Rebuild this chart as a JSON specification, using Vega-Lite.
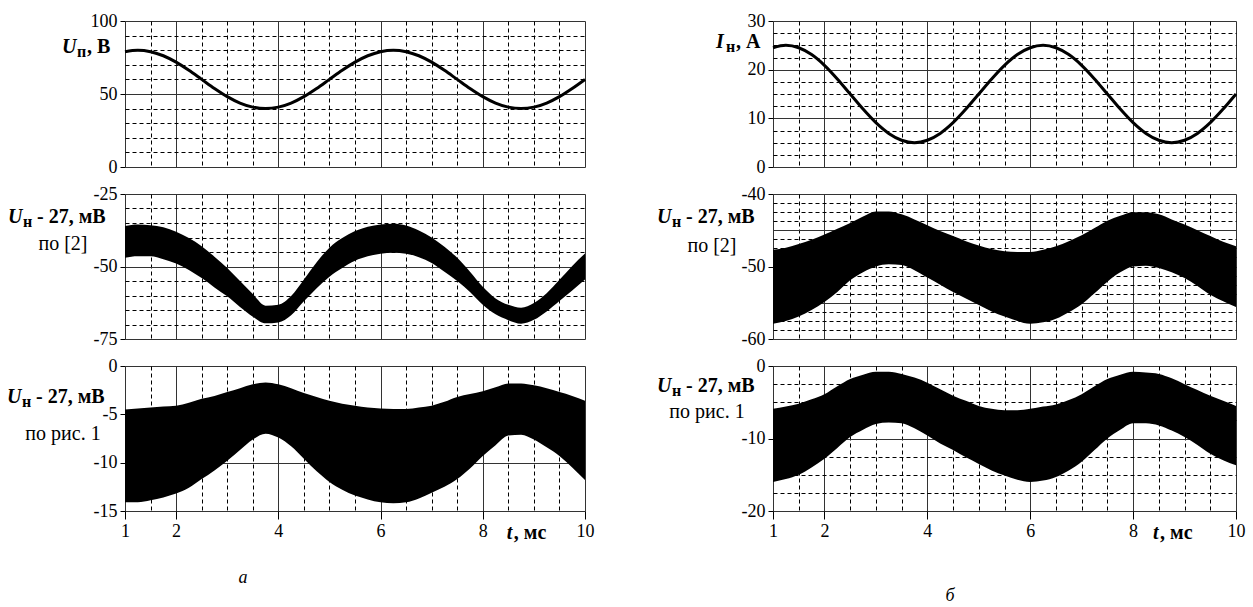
{
  "$schema": "https://vega.github.io/schema/vega-lite/v6.json",
  "background": "white",
  "padding": {"left": 6, "top": 11, "right": 0, "bottom": 0},
  "columns": 2,
  "bounds": "flush",
  "spacing": {"row": 27, "column": 188},
  "datasets": {
    "top_a": [
      {"t": 1, "u": 79.0}, {"t": 1.25, "u": 80}, {"t": 1.5, "u": 79.0}, {"t": 1.75, "u": 76.2}, {"t": 2, "u": 71.8},
      {"t": 2.25, "u": 66.2}, {"t": 2.5, "u": 60}, {"t": 2.75, "u": 53.8}, {"t": 3, "u": 48.2}, {"t": 3.25, "u": 43.8},
      {"t": 3.5, "u": 41.0}, {"t": 3.75, "u": 40}, {"t": 4, "u": 41.0}, {"t": 4.25, "u": 43.8}, {"t": 4.5, "u": 48.2},
      {"t": 4.75, "u": 53.8}, {"t": 5, "u": 60}, {"t": 5.25, "u": 66.2}, {"t": 5.5, "u": 71.8}, {"t": 5.75, "u": 76.2},
      {"t": 6, "u": 79.0}, {"t": 6.25, "u": 80}, {"t": 6.5, "u": 79.0}, {"t": 6.75, "u": 76.2}, {"t": 7, "u": 71.8},
      {"t": 7.25, "u": 66.2}, {"t": 7.5, "u": 60}, {"t": 7.75, "u": 53.8}, {"t": 8, "u": 48.2}, {"t": 8.25, "u": 43.8},
      {"t": 8.5, "u": 41.0}, {"t": 8.75, "u": 40}, {"t": 9, "u": 41.0}, {"t": 9.25, "u": 43.8}, {"t": 9.5, "u": 48.2},
      {"t": 9.75, "u": 53.8}, {"t": 10, "u": 60}
    ],
    "mid_a": [
      {"t": 1, "hi": -36.0, "lo": -47.0}, {"t": 1.25, "hi": -35.5, "lo": -46.5}, {"t": 1.5, "hi": -35.8, "lo": -46.5},
      {"t": 1.75, "hi": -36.5, "lo": -47.5}, {"t": 2, "hi": -38.0, "lo": -49.0}, {"t": 2.25, "hi": -40.2, "lo": -51.2},
      {"t": 2.5, "hi": -43.0, "lo": -54.0}, {"t": 2.75, "hi": -46.6, "lo": -57.2}, {"t": 3, "hi": -50.5, "lo": -60.3},
      {"t": 3.25, "hi": -55.0, "lo": -64.0}, {"t": 3.5, "hi": -59.5, "lo": -67.3}, {"t": 3.75, "hi": -63.5, "lo": -69.6},
      {"t": 4, "hi": -63.2, "lo": -69.3}, {"t": 4.25, "hi": -60.2, "lo": -66.8}, {"t": 4.5, "hi": -54.5, "lo": -62.0},
      {"t": 4.75, "hi": -48.5, "lo": -57.5}, {"t": 5, "hi": -43.5, "lo": -53.5}, {"t": 5.25, "hi": -40.2, "lo": -50.5},
      {"t": 5.5, "hi": -37.8, "lo": -48.0}, {"t": 5.75, "hi": -36.3, "lo": -46.5}, {"t": 6, "hi": -35.5, "lo": -45.6},
      {"t": 6.25, "hi": -35.3, "lo": -45.3}, {"t": 6.5, "hi": -35.9, "lo": -45.6}, {"t": 6.75, "hi": -37.6, "lo": -46.8},
      {"t": 7, "hi": -40.0, "lo": -48.8}, {"t": 7.25, "hi": -43.2, "lo": -51.8}, {"t": 7.5, "hi": -47.0, "lo": -55.0},
      {"t": 7.75, "hi": -51.8, "lo": -58.8}, {"t": 8, "hi": -57.0, "lo": -63.2}, {"t": 8.25, "hi": -61.0, "lo": -66.5},
      {"t": 8.5, "hi": -63.2, "lo": -68.5}, {"t": 8.75, "hi": -64.2, "lo": -69.7}, {"t": 9, "hi": -62.6, "lo": -68.4},
      {"t": 9.25, "hi": -59.2, "lo": -65.5}, {"t": 9.5, "hi": -54.6, "lo": -61.9}, {"t": 9.75, "hi": -49.8, "lo": -58.3},
      {"t": 10, "hi": -45.5, "lo": -54.5}
    ],
    "bot_a": [
      {"t": 1, "hi": -4.5, "lo": -14.1}, {"t": 1.25, "hi": -4.4, "lo": -14.1}, {"t": 1.5, "hi": -4.3, "lo": -13.9},
      {"t": 1.75, "hi": -4.2, "lo": -13.6}, {"t": 2, "hi": -4.1, "lo": -13.2}, {"t": 2.25, "hi": -3.8, "lo": -12.6},
      {"t": 2.5, "hi": -3.4, "lo": -11.7}, {"t": 2.75, "hi": -3.1, "lo": -10.8}, {"t": 3, "hi": -2.7, "lo": -9.8},
      {"t": 3.25, "hi": -2.3, "lo": -8.7}, {"t": 3.5, "hi": -1.9, "lo": -7.6}, {"t": 3.75, "hi": -1.7, "lo": -7.0},
      {"t": 4, "hi": -1.9, "lo": -7.4}, {"t": 4.25, "hi": -2.3, "lo": -8.3}, {"t": 4.5, "hi": -2.8, "lo": -9.6},
      {"t": 4.75, "hi": -3.2, "lo": -10.9}, {"t": 5, "hi": -3.6, "lo": -12.0}, {"t": 5.25, "hi": -3.9, "lo": -12.8},
      {"t": 5.5, "hi": -4.1, "lo": -13.4}, {"t": 5.75, "hi": -4.3, "lo": -13.8}, {"t": 6, "hi": -4.4, "lo": -14.1},
      {"t": 6.25, "hi": -4.45, "lo": -14.2}, {"t": 6.5, "hi": -4.45, "lo": -14.1}, {"t": 6.75, "hi": -4.3, "lo": -13.7},
      {"t": 7, "hi": -4.1, "lo": -13.1}, {"t": 7.25, "hi": -3.7, "lo": -12.5}, {"t": 7.5, "hi": -3.2, "lo": -11.7},
      {"t": 7.75, "hi": -2.9, "lo": -10.6}, {"t": 8, "hi": -2.6, "lo": -9.3}, {"t": 8.25, "hi": -2.2, "lo": -8.2},
      {"t": 8.5, "hi": -1.8, "lo": -7.2}, {"t": 8.75, "hi": -1.8, "lo": -7.1}, {"t": 9, "hi": -2.0, "lo": -7.6},
      {"t": 9.25, "hi": -2.3, "lo": -8.4}, {"t": 9.5, "hi": -2.7, "lo": -9.3}, {"t": 9.75, "hi": -3.1, "lo": -10.5},
      {"t": 10, "hi": -3.6, "lo": -11.8}
    ],
    "top_b": [
      {"t": 1, "i": 24.5}, {"t": 1.25, "i": 25}, {"t": 1.5, "i": 24.5}, {"t": 1.75, "i": 23.1}, {"t": 2, "i": 20.9},
      {"t": 2.25, "i": 18.1}, {"t": 2.5, "i": 15}, {"t": 2.75, "i": 11.9}, {"t": 3, "i": 9.1}, {"t": 3.25, "i": 6.9},
      {"t": 3.5, "i": 5.5}, {"t": 3.75, "i": 5}, {"t": 4, "i": 5.5}, {"t": 4.25, "i": 6.9}, {"t": 4.5, "i": 9.1},
      {"t": 4.75, "i": 11.9}, {"t": 5, "i": 15}, {"t": 5.25, "i": 18.1}, {"t": 5.5, "i": 20.9}, {"t": 5.75, "i": 23.1},
      {"t": 6, "i": 24.5}, {"t": 6.25, "i": 25}, {"t": 6.5, "i": 24.5}, {"t": 6.75, "i": 23.1}, {"t": 7, "i": 20.9},
      {"t": 7.25, "i": 18.1}, {"t": 7.5, "i": 15}, {"t": 7.75, "i": 11.9}, {"t": 8, "i": 9.1}, {"t": 8.25, "i": 6.9},
      {"t": 8.5, "i": 5.5}, {"t": 8.75, "i": 5}, {"t": 9, "i": 5.5}, {"t": 9.25, "i": 6.9}, {"t": 9.5, "i": 9.1},
      {"t": 9.75, "i": 11.9}, {"t": 10, "i": 15}
    ],
    "mid_b": [
      {"t": 1, "hi": -47.7, "lo": -57.9}, {"t": 1.25, "hi": -47.4, "lo": -57.5}, {"t": 1.5, "hi": -46.9, "lo": -56.9},
      {"t": 1.75, "hi": -46.3, "lo": -56.0}, {"t": 2, "hi": -45.6, "lo": -54.9}, {"t": 2.25, "hi": -44.8, "lo": -53.5},
      {"t": 2.5, "hi": -44.0, "lo": -51.9}, {"t": 2.75, "hi": -43.1, "lo": -50.8}, {"t": 3, "hi": -42.4, "lo": -50.0},
      {"t": 3.25, "hi": -42.4, "lo": -49.7}, {"t": 3.5, "hi": -42.8, "lo": -49.8}, {"t": 3.75, "hi": -43.5, "lo": -50.5},
      {"t": 4, "hi": -44.3, "lo": -51.5}, {"t": 4.25, "hi": -45.1, "lo": -52.5}, {"t": 4.5, "hi": -45.8, "lo": -53.5},
      {"t": 4.75, "hi": -46.5, "lo": -54.4}, {"t": 5, "hi": -47.1, "lo": -55.3}, {"t": 5.25, "hi": -47.6, "lo": -56.2},
      {"t": 5.5, "hi": -47.9, "lo": -56.9}, {"t": 5.75, "hi": -48.0, "lo": -57.5}, {"t": 6, "hi": -48.0, "lo": -57.9},
      {"t": 6.25, "hi": -47.7, "lo": -57.7}, {"t": 6.5, "hi": -47.2, "lo": -57.2}, {"t": 6.75, "hi": -46.5, "lo": -56.3},
      {"t": 7, "hi": -45.7, "lo": -55.2}, {"t": 7.25, "hi": -44.7, "lo": -53.7}, {"t": 7.5, "hi": -43.7, "lo": -52.1},
      {"t": 7.75, "hi": -43.0, "lo": -50.8}, {"t": 8, "hi": -42.5, "lo": -50.0}, {"t": 8.25, "hi": -42.5, "lo": -49.9},
      {"t": 8.5, "hi": -42.8, "lo": -50.2}, {"t": 8.75, "hi": -43.5, "lo": -50.8}, {"t": 9, "hi": -44.2, "lo": -51.6},
      {"t": 9.25, "hi": -45.0, "lo": -52.7}, {"t": 9.5, "hi": -45.8, "lo": -53.9}, {"t": 9.75, "hi": -46.6, "lo": -54.8},
      {"t": 10, "hi": -47.2, "lo": -55.6}
    ],
    "bot_b": [
      {"t": 1, "hi": -5.9, "lo": -16.0}, {"t": 1.25, "hi": -5.6, "lo": -15.6}, {"t": 1.5, "hi": -5.2, "lo": -15.0},
      {"t": 1.75, "hi": -4.6, "lo": -14.0}, {"t": 2, "hi": -3.9, "lo": -12.8}, {"t": 2.25, "hi": -2.8, "lo": -11.3},
      {"t": 2.5, "hi": -1.8, "lo": -9.8}, {"t": 2.75, "hi": -1.2, "lo": -8.8}, {"t": 3, "hi": -0.8, "lo": -8.0},
      {"t": 3.25, "hi": -0.8, "lo": -7.8}, {"t": 3.5, "hi": -1.1, "lo": -7.9}, {"t": 3.75, "hi": -1.6, "lo": -8.6},
      {"t": 4, "hi": -2.3, "lo": -9.6}, {"t": 4.25, "hi": -3.2, "lo": -10.7}, {"t": 4.5, "hi": -4.1, "lo": -11.6},
      {"t": 4.75, "hi": -4.8, "lo": -12.6}, {"t": 5, "hi": -5.5, "lo": -13.5}, {"t": 5.25, "hi": -5.9, "lo": -14.4},
      {"t": 5.5, "hi": -6.1, "lo": -15.1}, {"t": 5.75, "hi": -6.1, "lo": -15.7}, {"t": 6, "hi": -5.9, "lo": -16.0},
      {"t": 6.25, "hi": -5.6, "lo": -15.8}, {"t": 6.5, "hi": -5.3, "lo": -15.3}, {"t": 6.75, "hi": -4.7, "lo": -14.4},
      {"t": 7, "hi": -3.9, "lo": -13.2}, {"t": 7.25, "hi": -2.8, "lo": -11.6}, {"t": 7.5, "hi": -1.8, "lo": -10.0},
      {"t": 7.75, "hi": -1.2, "lo": -8.8}, {"t": 8, "hi": -0.8, "lo": -7.9}, {"t": 8.25, "hi": -0.9, "lo": -7.9},
      {"t": 8.5, "hi": -1.1, "lo": -8.2}, {"t": 8.75, "hi": -1.7, "lo": -8.9}, {"t": 9, "hi": -2.5, "lo": -9.8},
      {"t": 9.25, "hi": -3.3, "lo": -10.9}, {"t": 9.5, "hi": -4.1, "lo": -12.1}, {"t": 9.75, "hi": -4.8, "lo": -13.0},
      {"t": 10, "hi": -5.5, "lo": -13.7}
    ]
  },
  "concat": [
    {
      "width": 460, "height": 146,
      "layer": [
        {
          "data": {"name": "top_a"},
          "mark": {"type": "line", "color": "#000", "strokeWidth": 3, "interpolate": "monotone"},
          "encoding": {
            "x": {"field": "t", "type": "quantitative", "scale": {"domain": [1, 10], "nice": false, "zero": false},
              "axis": {"values": [1, 1.5, 2, 2.5, 3, 3.5, 4, 4.5, 5, 5.5, 6, 6.5, 7, 7.5, 8, 8.5, 9, 9.5, 10], "tickCount": 100, "title": null, "labels": false, "ticks": false, "domain": false, "grid": true,
                "gridDash": {"condition": {"test": "datum.value % 2 === 0", "value": []}, "value": [4, 3]},
                "gridColor": {"condition": {"test": "datum.value % 2 === 0", "value": "#333"}, "value": "#000"},
                "gridOpacity": {"condition": {"test": "datum.value === 1 || datum.value === 10", "value": 0}, "value": 1}}},
            "y": {"field": "u", "type": "quantitative", "scale": {"domain": [0, 100], "nice": false, "zero": false},
              "axis": {"values": [0, 10, 20, 30, 40, 50, 60, 70, 80, 90, 100], "tickCount": 100, "title": null, "domain": false, "grid": true, "tickSize": 5, "labelPadding": 3,
                "labelExpr": "indexof([0, 50, 100], datum.value) >= 0 ? '' + datum.value : ''",
                "tickOpacity": {"condition": {"test": "indexof([0, 50, 100], datum.value) >= 0", "value": 1}, "value": 0},
                "gridDash": {"condition": {"test": "datum.value === 50", "value": []}, "value": [4, 3]},
                "gridColor": {"condition": {"test": "datum.value === 50", "value": "#333"}, "value": "#000"},
                "gridOpacity": {"condition": {"test": "datum.value === 0 || datum.value === 100", "value": 0}, "value": 1}}}
          }
        },
        {"data": {"values": [{}]}, "mark": {"type": "text", "text": "U", "fontWeight": "bold", "fontStyle": "italic", "align": "left", "dx": -63, "dy": 32}, "encoding": {"x": {"datum": 1}, "y": {"datum": 100}}},
        {"data": {"values": [{}]}, "mark": {"type": "text", "text": "п", "fontWeight": "bold", "fontSize": 16, "align": "left", "dx": -48, "dy": 36}, "encoding": {"x": {"datum": 1}, "y": {"datum": 100}}},
        {"data": {"values": [{}]}, "mark": {"type": "text", "text": ", В", "fontWeight": "bold", "align": "left", "dx": -38, "dy": 32}, "encoding": {"x": {"datum": 1}, "y": {"datum": 100}}}
      ]
    },
    {
      "width": 463, "height": 146,
      "layer": [
        {
          "data": {"name": "top_b"},
          "mark": {"type": "line", "color": "#000", "strokeWidth": 3, "interpolate": "monotone"},
          "encoding": {
            "x": {"field": "t", "type": "quantitative", "scale": {"domain": [1, 10], "nice": false, "zero": false},
              "axis": {"values": [1, 1.5, 2, 2.5, 3, 3.5, 4, 4.5, 5, 5.5, 6, 6.5, 7, 7.5, 8, 8.5, 9, 9.5, 10], "tickCount": 100, "title": null, "labels": false, "ticks": false, "domain": false, "grid": true,
                "gridDash": {"condition": {"test": "datum.value % 2 === 0", "value": []}, "value": [4, 3]},
                "gridColor": {"condition": {"test": "datum.value % 2 === 0", "value": "#333"}, "value": "#000"},
                "gridOpacity": {"condition": {"test": "datum.value === 1 || datum.value === 10", "value": 0}, "value": 1}}},
            "y": {"field": "i", "type": "quantitative", "scale": {"domain": [0, 30], "nice": false, "zero": false},
              "axis": {"values": [0, 2.5, 5, 7.5, 10, 12.5, 15, 17.5, 20, 22.5, 25, 27.5, 30], "tickCount": 100, "title": null, "domain": false, "grid": true, "tickSize": 5, "labelPadding": 3,
                "labelExpr": "indexof([0, 10, 20, 30], datum.value) >= 0 ? '' + datum.value : ''",
                "tickOpacity": {"condition": {"test": "indexof([0, 10, 20, 30], datum.value) >= 0", "value": 1}, "value": 0},
                "gridDash": {"condition": {"test": "datum.value === 10 || datum.value === 20", "value": []}, "value": [4, 3]},
                "gridColor": {"condition": {"test": "datum.value === 10 || datum.value === 20", "value": "#333"}, "value": "#000"},
                "gridOpacity": {"condition": {"test": "datum.value === 0 || datum.value === 30", "value": 0}, "value": 1}}}
          }
        },
        {"data": {"values": [{}]}, "mark": {"type": "text", "text": "I", "fontWeight": "bold", "fontStyle": "italic", "align": "left", "dx": -57, "dy": 27}, "encoding": {"x": {"datum": 1}, "y": {"datum": 30}}},
        {"data": {"values": [{}]}, "mark": {"type": "text", "text": "н", "fontWeight": "bold", "fontSize": 16, "align": "left", "dx": -47, "dy": 31}, "encoding": {"x": {"datum": 1}, "y": {"datum": 30}}},
        {"data": {"values": [{}]}, "mark": {"type": "text", "text": ", А", "fontWeight": "bold", "align": "left", "dx": -37, "dy": 27}, "encoding": {"x": {"datum": 1}, "y": {"datum": 30}}}
      ]
    },
    {
      "width": 460, "height": 145,
      "layer": [
        {
          "data": {"name": "mid_a"},
          "mark": {"type": "area", "color": "#000", "interpolate": "monotone"},
          "encoding": {
            "x": {"field": "t", "type": "quantitative", "scale": {"domain": [1, 10], "nice": false, "zero": false},
              "axis": {"values": [1, 1.5, 2, 2.5, 3, 3.5, 4, 4.5, 5, 5.5, 6, 6.5, 7, 7.5, 8, 8.5, 9, 9.5, 10], "tickCount": 100, "title": null, "labels": false, "ticks": false, "domain": false, "grid": true,
                "gridDash": {"condition": {"test": "datum.value % 2 === 0", "value": []}, "value": [4, 3]},
                "gridColor": {"condition": {"test": "datum.value % 2 === 0", "value": "#333"}, "value": "#000"},
                "gridOpacity": {"condition": {"test": "datum.value === 1 || datum.value === 10", "value": 0}, "value": 1}}},
            "y": {"field": "hi", "type": "quantitative", "scale": {"domain": [-75, -25], "nice": false, "zero": false},
              "axis": {"values": [-75, -70, -65, -60, -55, -50, -45, -40, -35, -30, -25], "tickCount": 100, "title": null, "domain": false, "grid": true, "tickSize": 5, "labelPadding": 3,
                "labelExpr": "indexof([-75, -50, -25], datum.value) >= 0 ? '' + datum.value : ''",
                "tickOpacity": {"condition": {"test": "indexof([-75, -50, -25], datum.value) >= 0", "value": 1}, "value": 0},
                "gridDash": {"condition": {"test": "datum.value === -50", "value": []}, "value": [4, 3]},
                "gridColor": {"condition": {"test": "datum.value === -50", "value": "#333"}, "value": "#000"},
                "gridOpacity": {"condition": {"test": "datum.value === -75 || datum.value === -25", "value": 0}, "value": 1}}},
            "y2": {"field": "lo"}
          }
        },
        {"data": {"values": [{}]}, "mark": {"type": "text", "text": "U", "fontWeight": "bold", "fontStyle": "italic", "align": "left", "dx": -117, "dy": 29}, "encoding": {"x": {"datum": 1}, "y": {"datum": -25}}},
        {"data": {"values": [{}]}, "mark": {"type": "text", "text": "н", "fontWeight": "bold", "fontSize": 16, "align": "left", "dx": -102, "dy": 33}, "encoding": {"x": {"datum": 1}, "y": {"datum": -25}}},
        {"data": {"values": [{}]}, "mark": {"type": "text", "text": "- 27, мВ", "fontWeight": "bold", "align": "left", "dx": -88, "dy": 29}, "encoding": {"x": {"datum": 1}, "y": {"datum": -25}}},
        {"data": {"values": [{}]}, "mark": {"type": "text", "text": "по [2]", "align": "center", "dx": -62, "dy": 56}, "encoding": {"x": {"datum": 1}, "y": {"datum": -25}}}
      ]
    },
    {
      "width": 463, "height": 145,
      "layer": [
        {
          "data": {"name": "mid_b"},
          "mark": {"type": "area", "color": "#000", "interpolate": "monotone"},
          "encoding": {
            "x": {"field": "t", "type": "quantitative", "scale": {"domain": [1, 10], "nice": false, "zero": false},
              "axis": {"values": [1, 1.5, 2, 2.5, 3, 3.5, 4, 4.5, 5, 5.5, 6, 6.5, 7, 7.5, 8, 8.5, 9, 9.5, 10], "tickCount": 100, "title": null, "labels": false, "ticks": false, "domain": false, "grid": true,
                "gridDash": {"condition": {"test": "datum.value % 2 === 0", "value": []}, "value": [4, 3]},
                "gridColor": {"condition": {"test": "datum.value % 2 === 0", "value": "#333"}, "value": "#000"},
                "gridOpacity": {"condition": {"test": "datum.value === 1 || datum.value === 10", "value": 0}, "value": 1}}},
            "y": {"field": "hi", "type": "quantitative", "scale": {"domain": [-60, -40], "nice": false, "zero": false},
              "axis": {"values": [-60, -58.75, -57.5, -56.25, -55, -53.75, -52.5, -51.25, -50, -48.75, -47.5, -46.25, -45, -43.75, -42.5, -41.25, -40], "tickCount": 100, "title": null, "domain": false, "grid": true, "tickSize": 5, "labelPadding": 3,
                "labelExpr": "indexof([-60, -50, -40], datum.value) >= 0 ? '' + datum.value : ''",
                "tickOpacity": {"condition": {"test": "indexof([-60, -50, -40], datum.value) >= 0", "value": 1}, "value": 0},
                "gridDash": {"condition": {"test": "datum.value === -45 || datum.value === -55", "value": []}, "value": [4, 3]},
                "gridColor": {"condition": {"test": "datum.value === -45 || datum.value === -55", "value": "#333"}, "value": "#000"},
                "gridOpacity": {"condition": {"test": "datum.value === -60 || datum.value === -40", "value": 0}, "value": 1}}},
            "y2": {"field": "lo"}
          }
        },
        {"data": {"values": [{}]}, "mark": {"type": "text", "text": "U", "fontWeight": "bold", "fontStyle": "italic", "align": "left", "dx": -116, "dy": 29}, "encoding": {"x": {"datum": 1}, "y": {"datum": -40}}},
        {"data": {"values": [{}]}, "mark": {"type": "text", "text": "н", "fontWeight": "bold", "fontSize": 16, "align": "left", "dx": -101, "dy": 33}, "encoding": {"x": {"datum": 1}, "y": {"datum": -40}}},
        {"data": {"values": [{}]}, "mark": {"type": "text", "text": "- 27, мВ", "fontWeight": "bold", "align": "left", "dx": -87, "dy": 29}, "encoding": {"x": {"datum": 1}, "y": {"datum": -40}}},
        {"data": {"values": [{}]}, "mark": {"type": "text", "text": "по [2]", "align": "center", "dx": -61, "dy": 58}, "encoding": {"x": {"datum": 1}, "y": {"datum": -40}}}
      ]
    },
    {
      "width": 460, "height": 145,
      "layer": [
        {
          "data": {"name": "bot_a"},
          "mark": {"type": "area", "color": "#000", "interpolate": "monotone"},
          "encoding": {
            "x": {"field": "t", "type": "quantitative", "scale": {"domain": [1, 10], "nice": false, "zero": false},
              "axis": {"values": [1, 1.5, 2, 2.5, 3, 3.5, 4, 4.5, 5, 5.5, 6, 6.5, 7, 7.5, 8, 8.5, 9, 9.5, 10], "tickCount": 100, "title": null, "domain": false, "grid": true,
                "labelExpr": "indexof([1, 2, 4, 6, 8, 10], datum.value) >= 0 ? '' + datum.value : ''",
                "tickSize": 8, "labelPadding": 3,
                "tickOpacity": {"condition": {"test": "indexof([1, 2, 4, 6, 8, 10], datum.value) >= 0", "value": 1}, "value": 0},
                "gridDash": {"condition": {"test": "datum.value % 2 === 0", "value": []}, "value": [4, 3]},
                "gridColor": {"condition": {"test": "datum.value % 2 === 0", "value": "#333"}, "value": "#000"},
                "gridOpacity": {"condition": {"test": "datum.value === 1 || datum.value === 10", "value": 0}, "value": 1}}},
            "y": {"field": "hi", "type": "quantitative", "scale": {"domain": [-15, 0], "nice": false, "zero": false},
              "axis": {"values": [-15, -10, -5, 0], "tickCount": 100, "title": null, "domain": false, "grid": true, "tickSize": 5, "labelPadding": 3,
                "labelExpr": "'' + datum.value",
                "gridColor": "#333",
                "gridOpacity": {"condition": {"test": "datum.value === -15 || datum.value === 0", "value": 0}, "value": 1}}},
            "y2": {"field": "lo"}
          }
        },
        {"data": {"values": [{}]}, "mark": {"type": "text", "text": "U", "fontWeight": "bold", "fontStyle": "italic", "align": "left", "dx": -118, "dy": 37}, "encoding": {"x": {"datum": 1}, "y": {"datum": 0}}},
        {"data": {"values": [{}]}, "mark": {"type": "text", "text": "н", "fontWeight": "bold", "fontSize": 16, "align": "left", "dx": -103, "dy": 41}, "encoding": {"x": {"datum": 1}, "y": {"datum": 0}}},
        {"data": {"values": [{}]}, "mark": {"type": "text", "text": "- 27, мВ", "fontWeight": "bold", "align": "left", "dx": -89, "dy": 37}, "encoding": {"x": {"datum": 1}, "y": {"datum": 0}}},
        {"data": {"values": [{}]}, "mark": {"type": "text", "text": "по рис. 1", "align": "center", "dx": -62, "dy": 74}, "encoding": {"x": {"datum": 1}, "y": {"datum": 0}}},
        {"data": {"values": [{}]}, "mark": {"type": "text", "text": "t", "fontWeight": "bold", "fontStyle": "italic", "align": "left", "dx": 24, "dy": 28}, "encoding": {"x": {"datum": 8}, "y": {"datum": -15}}},
        {"data": {"values": [{}]}, "mark": {"type": "text", "text": ", мс", "fontWeight": "bold", "align": "left", "dx": 31, "dy": 28}, "encoding": {"x": {"datum": 8}, "y": {"datum": -15}}},
        {"data": {"values": [{}]}, "mark": {"type": "text", "text": "а", "fontStyle": "italic", "fontSize": 18, "align": "center", "dx": 118, "dy": 72}, "encoding": {"x": {"datum": 1}, "y": {"datum": -15}}}
      ]
    },
    {
      "width": 463, "height": 145,
      "layer": [
        {
          "data": {"name": "bot_b"},
          "mark": {"type": "area", "color": "#000", "interpolate": "monotone"},
          "encoding": {
            "x": {"field": "t", "type": "quantitative", "scale": {"domain": [1, 10], "nice": false, "zero": false},
              "axis": {"values": [1, 1.5, 2, 2.5, 3, 3.5, 4, 4.5, 5, 5.5, 6, 6.5, 7, 7.5, 8, 8.5, 9, 9.5, 10], "tickCount": 100, "title": null, "domain": false, "grid": true,
                "labelExpr": "indexof([1, 2, 4, 6, 8, 10], datum.value) >= 0 ? '' + datum.value : ''",
                "tickSize": 8, "labelPadding": 3,
                "tickOpacity": {"condition": {"test": "indexof([1, 2, 4, 6, 8, 10], datum.value) >= 0", "value": 1}, "value": 0},
                "gridDash": {"condition": {"test": "datum.value % 2 === 0", "value": []}, "value": [4, 3]},
                "gridColor": {"condition": {"test": "datum.value % 2 === 0", "value": "#333"}, "value": "#000"},
                "gridOpacity": {"condition": {"test": "datum.value === 1 || datum.value === 10", "value": 0}, "value": 1}}},
            "y": {"field": "hi", "type": "quantitative", "scale": {"domain": [-20, 0], "nice": false, "zero": false},
              "axis": {"values": [-20, -17.5, -15, -12.5, -10, -7.5, -5, -2.5, 0], "tickCount": 100, "title": null, "domain": false, "grid": true, "tickSize": 5, "labelPadding": 3,
                "labelExpr": "indexof([-20, -10, 0], datum.value) >= 0 ? '' + datum.value : ''",
                "tickOpacity": {"condition": {"test": "indexof([-20, -10, 0], datum.value) >= 0", "value": 1}, "value": 0},
                "gridDash": {"condition": {"test": "datum.value === -10", "value": []}, "value": [4, 3]},
                "gridColor": {"condition": {"test": "datum.value === -10", "value": "#333"}, "value": "#000"},
                "gridOpacity": {"condition": {"test": "datum.value === -20 || datum.value === 0", "value": 0}, "value": 1}}},
            "y2": {"field": "lo"}
          }
        },
        {"data": {"values": [{}]}, "mark": {"type": "text", "text": "U", "fontWeight": "bold", "fontStyle": "italic", "align": "left", "dx": -116, "dy": 26}, "encoding": {"x": {"datum": 1}, "y": {"datum": 0}}},
        {"data": {"values": [{}]}, "mark": {"type": "text", "text": "н", "fontWeight": "bold", "fontSize": 16, "align": "left", "dx": -101, "dy": 30}, "encoding": {"x": {"datum": 1}, "y": {"datum": 0}}},
        {"data": {"values": [{}]}, "mark": {"type": "text", "text": "- 27, мВ", "fontWeight": "bold", "align": "left", "dx": -87, "dy": 26}, "encoding": {"x": {"datum": 1}, "y": {"datum": 0}}},
        {"data": {"values": [{}]}, "mark": {"type": "text", "text": "по рис. 1", "align": "center", "dx": -66, "dy": 52}, "encoding": {"x": {"datum": 1}, "y": {"datum": 0}}},
        {"data": {"values": [{}]}, "mark": {"type": "text", "text": "t", "fontWeight": "bold", "fontStyle": "italic", "align": "left", "dx": 20, "dy": 28}, "encoding": {"x": {"datum": 8}, "y": {"datum": -20}}},
        {"data": {"values": [{}]}, "mark": {"type": "text", "text": ", мс", "fontWeight": "bold", "align": "left", "dx": 27, "dy": 28}, "encoding": {"x": {"datum": 8}, "y": {"datum": -20}}},
        {"data": {"values": [{}]}, "mark": {"type": "text", "text": "б", "fontStyle": "italic", "fontSize": 18, "align": "center", "dx": 177, "dy": 90}, "encoding": {"x": {"datum": 1}, "y": {"datum": -20}}}
      ]
    }
  ],
  "config": {
    "view": {"stroke": "#333", "strokeWidth": 1},
    "axis": {"labelFont": "Liberation Serif", "labelFontSize": 18, "labelColor": "#000", "tickColor": "#000", "tickWidth": 1, "gridWidth": 1, "labelFlush": false, "labelOverlap": false},
    "text": {"font": "Liberation Serif", "fontSize": 20, "baseline": "alphabetic", "color": "#000"}
  }
}
